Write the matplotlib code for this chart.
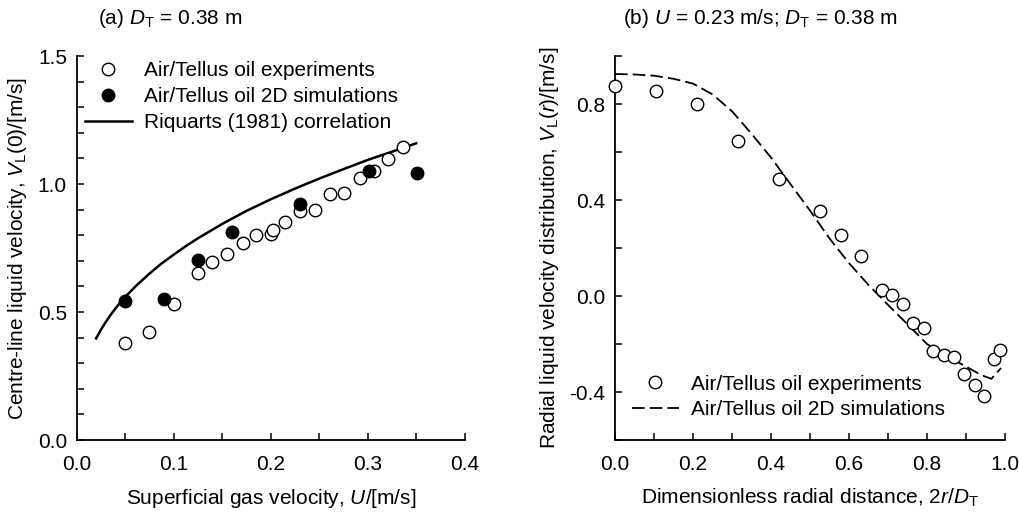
import matplotlib
matplotlib.use("Agg")
import matplotlib.pyplot as plt
from matplotlib.ticker import MultipleLocator, FormatStrFormatter
from matplotlib import font_manager

# ---- Data: panel (a) ----
exp_u = [0.050, 0.075, 0.100, 0.125, 0.140, 0.155, 0.171, 0.185, 0.200, 0.202,
         0.215, 0.230, 0.246, 0.261, 0.276, 0.292, 0.307, 0.321, 0.336]
exp_v = [0.378, 0.420, 0.530, 0.654, 0.694, 0.725, 0.770, 0.800, 0.803, 0.820,
         0.853, 0.896, 0.900, 0.961, 0.966, 1.022, 1.051, 1.098, 1.143]
sim_u = [0.050, 0.090, 0.125, 0.160, 0.230, 0.301, 0.351]
sim_v = [0.543, 0.552, 0.703, 0.812, 0.922, 1.049, 1.042]
riq_u = [0.020, 0.025, 0.030, 0.035, 0.040, 0.045, 0.050, 0.062, 0.075, 0.087, 0.100,
         0.112, 0.125, 0.150, 0.175, 0.200, 0.225, 0.250, 0.275, 0.300, 0.325, 0.350]
riq_v = [0.397, 0.431, 0.461, 0.489, 0.514, 0.537, 0.559, 0.605, 0.650, 0.688, 0.724,
         0.756, 0.788, 0.844, 0.895, 0.940, 0.982, 1.021, 1.058, 1.094, 1.126, 1.159]

# ---- Data: panel (b) ----
rad_exp_x = [0.000, 0.106, 0.210, 0.316, 0.420, 0.526, 0.580, 0.632, 0.685, 0.711,
             0.738, 0.764, 0.792, 0.816, 0.844, 0.870, 0.896, 0.922, 0.947, 0.973, 0.986]
rad_exp_v = [0.875, 0.856, 0.799, 0.646, 0.487, 0.356, 0.256, 0.168, 0.026, 0.003,
             -0.032, -0.114, -0.135, -0.231, -0.244, -0.256, -0.325, -0.369, -0.418, -0.262, -0.226]
rad_sim_x = [0.0, 0.05, 0.10, 0.15, 0.20, 0.25, 0.30, 0.35, 0.40, 0.45, 0.50,
             0.55, 0.60, 0.65, 0.70, 0.75, 0.80, 0.85, 0.90, 0.94, 0.965, 0.99]
rad_sim_v = [0.925, 0.923, 0.918, 0.905, 0.885, 0.840, 0.770, 0.676, 0.577, 0.466, 0.356,
             0.240, 0.137, 0.046, -0.037, -0.118, -0.200, -0.250, -0.294, -0.330, -0.345, -0.300]

names = {f.name for f in font_manager.fontManager.ttflist}
base = "Liberation Sans" if "Liberation Sans" in names else "DejaVu Sans"
plt.rcParams['font.family'] = [base, 'DejaVu Sans']
plt.rcParams['mathtext.fontset'] = 'custom'
plt.rcParams['mathtext.rm'] = base
plt.rcParams['mathtext.it'] = base + ':italic'

FS = 15

fig = plt.figure(figsize=(10.2, 5.15), dpi=100)
axA = fig.add_axes([76.7/1020, 75/515, 388/1020, 384/515])
axB = fig.add_axes([615/1020, 75/515, 390/1020, 384/515])

def style(ax):
    for s in ['top', 'right']:
        ax.spines[s].set_visible(False)
    for s in ['left', 'bottom']:
        ax.spines[s].set_linewidth(1.3)
    ax.tick_params(which='both', direction='in', length=5, width=1.1)
    ax.tick_params(axis='y', labelsize=FS, pad=7)
    ax.tick_params(axis='x', labelsize=FS, pad=11)

# panel (a)
axA.plot(exp_u, exp_v, 'o', ms=9, mfc='white', mec='black', mew=1.0, ls='none',
         label='Air/Tellus oil experiments', zorder=3)
axA.plot(sim_u, sim_v, 'o', ms=9, mfc='black', mec='black', ls='none',
         label='Air/Tellus oil 2D simulations', zorder=4)
axA.plot(riq_u, riq_v, '-', color='black', lw=1.8, label='Riquarts (1981) correlation', zorder=2)
axA.set_xlim(0, 0.4)
axA.set_ylim(0, 1.5)
axA.xaxis.set_major_locator(MultipleLocator(0.1))
axA.xaxis.set_minor_locator(MultipleLocator(0.05))
axA.yaxis.set_major_locator(MultipleLocator(0.5))
axA.yaxis.set_minor_locator(MultipleLocator(0.1))
axA.xaxis.set_major_formatter(FormatStrFormatter('%.1f'))
axA.yaxis.set_major_formatter(FormatStrFormatter('%.1f'))
style(axA)
axA.legend(loc='upper left', bbox_to_anchor=(0.0, 1.008), frameon=False, fontsize=FS,
           handlelength=2.24, handletextpad=0.6, labelspacing=0.34, borderaxespad=0)
axA.set_ylabel(r'Centre-line liquid velocity, $V_{\mathrm{L}}$(0)/[m/s]', fontsize=FS, labelpad=6)

# panel (b)
axB.plot(rad_exp_x, rad_exp_v, 'o', ms=9, mfc='white', mec='black', mew=1.0, ls='none',
         label='Air/Tellus oil experiments', zorder=3, clip_on=False)
axB.plot(rad_sim_x, rad_sim_v, color='black', lw=1.3, dashes=(7, 2.8),
         label='Air/Tellus oil 2D simulations', zorder=2)
axB.set_xlim(0, 1.0)
axB.set_ylim(-0.6, 1.0)
axB.xaxis.set_major_locator(MultipleLocator(0.2))
axB.xaxis.set_minor_locator(MultipleLocator(0.1))
axB.yaxis.set_major_locator(MultipleLocator(0.4))
axB.yaxis.set_minor_locator(MultipleLocator(0.2))
axB.xaxis.set_major_formatter(FormatStrFormatter('%.1f'))
axB.yaxis.set_major_formatter(FormatStrFormatter('%.1f'))
style(axB)
axB.legend(loc='lower left', bbox_to_anchor=(0.022, 0.032), frameon=False, fontsize=FS,
           handlelength=2.24, handletextpad=0.6, labelspacing=0.32, borderaxespad=0)
axB.set_ylabel(r'Radial liquid velocity distribution, $V_{\mathrm{L}}$($r$)/[m/s]', fontsize=FS, labelpad=6)

# x labels and titles
fig.text(271/1020, 1 - 498/515, r'Superficial gas velocity, $U$/[m/s]', ha='center', va='center',
         fontsize=FS)
fig.text(810/1020, 1 - 498/515, r'Dimensionless radial distance, 2$r$/$D_{\mathrm{T}}$', ha='center', va='center',
         fontsize=FS)
fig.text(98/1020, 1 - 18/515, r'(a) $D_{\mathrm{T}}$ = 0.38 m', ha='left', va='center', fontsize=FS)
fig.text(623/1020, 1 - 18/515, r'(b) $U$ = 0.23 m/s; $D_{\mathrm{T}}$ = 0.38 m', ha='left', va='center', fontsize=FS)

fig.savefig('out.png', dpi=100)
